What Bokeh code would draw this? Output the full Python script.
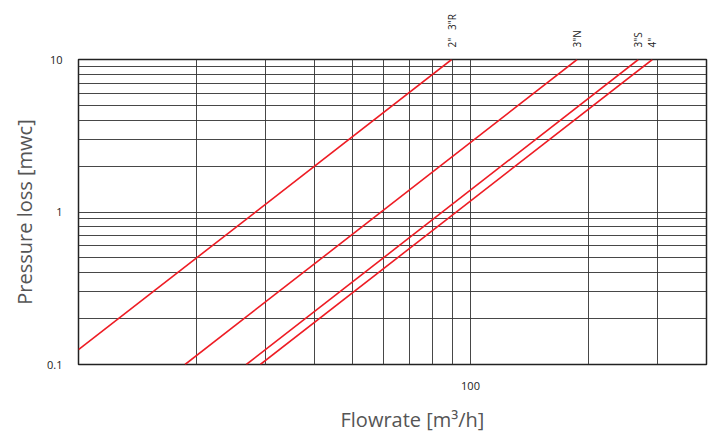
import math
from bokeh.plotting import figure
from bokeh.models import (Range1d, FixedTicker, NumeralTickFormatter, LogAxis,
                          CustomJSTickFormatter, Title)
from bokeh.embed import file_html
from bokeh.resources import INLINE

# ---- data ----
line_names = ['2"', '3"N', '3"S', '4"']
flow_2in = [10.0, 89.5]
loss_2in = [0.125, 10.0]
flow_3n = [18.7, 187.0]
loss_3n = [0.1, 10.0]
flow_3s = [26.8, 268.0]
loss_3s = [0.1, 10.0]
flow_4in = [29.1, 291.0]
loss_4in = [0.1, 10.0]

top_labels = ['2"\u00a0\u00a0\u00a03"R', '3"N', '3"S', '4"']
top_label_flows = [flow_2in[-1], flow_3n[-1], flow_3s[-1], flow_4in[-1]]

x_ticks = [100]
y_ticks = [0.1, 1, 10]
x_grid = [20, 30, 40, 50, 60, 70, 80, 90, 100, 200, 300]
y_grid = [0.2, 0.3, 0.4, 0.5, 0.6, 0.7, 0.8, 0.9, 1, 2, 3, 4, 5, 6, 7, 8, 9]

FONT = "Open Sans"
RED = "#ee1c24"

p = figure(width=710, height=443, x_axis_type="log", y_axis_type="log",
           x_range=Range1d(10, 400), y_range=Range1d(0.1, 10),
           output_backend="svg", toolbar_location=None,
           min_border_left=78, min_border_right=4,
           min_border_top=59, min_border_bottom=79)

p.outline_line_color = "#222222"
p.outline_line_width = 1.5
p.background_fill_color = "white"
p.border_fill_color = "white"

bottom_axis = p.below[0]
left_axis = p.left[0]
top_axis = LogAxis()
p.add_layout(top_axis, "above")

for ax, ticks in ((bottom_axis, x_ticks), (left_axis, y_ticks),
                  (top_axis, top_label_flows)):
    ax.ticker = FixedTicker(ticks=ticks, minor_ticks=[])
    ax.axis_line_color = None
    ax.major_tick_line_color = None
    ax.minor_tick_line_color = None
    ax.major_tick_out = 0
    ax.major_tick_in = 0
    ax.major_label_text_font = FONT
    ax.major_label_text_font_size = "11px"
    ax.major_label_text_color = "#222222"

bottom_axis.formatter = NumeralTickFormatter(format="0.[0]")
left_axis.formatter = NumeralTickFormatter(format="0.[0]")
bottom_axis.major_label_standoff = 17
left_axis.major_label_standoff = 16

top_axis.formatter = CustomJSTickFormatter(
    args=dict(flows=top_label_flows, names=top_labels),
    code="const i = flows.indexOf(tick); return i >= 0 ? names[i] : '';")
top_axis.major_label_orientation = "vertical"
top_axis.major_label_text_font_size = "10px"
top_axis.major_label_standoff = 12

p.xgrid.ticker = FixedTicker(ticks=x_grid)
p.ygrid.ticker = FixedTicker(ticks=y_grid)
for g in (p.xgrid, p.ygrid):
    g.grid_line_color = "#333333"
    g.grid_line_width = 1
    g.grid_line_alpha = 0.9

for xs, ys in ((flow_2in, loss_2in), (flow_3n, loss_3n),
               (flow_3s, loss_3s), (flow_4in, loss_4in)):
    p.line(xs, ys, line_color=RED, line_width=1.6)

p.add_layout(Title(text="Pressure loss [mwc]", align="center", offset=5,
                   standoff=13, text_font=FONT, text_font_size="20px",
                   text_font_style="normal", text_color="#555555"), "left")
p.add_layout(Title(text="Flowrate [m³/h]", align="left", offset=262,
                   standoff=22, text_font=FONT, text_font_size="20px",
                   text_font_style="normal", text_color="#555555"), "below")

open("out.html", "w").write(file_html(p, INLINE))
